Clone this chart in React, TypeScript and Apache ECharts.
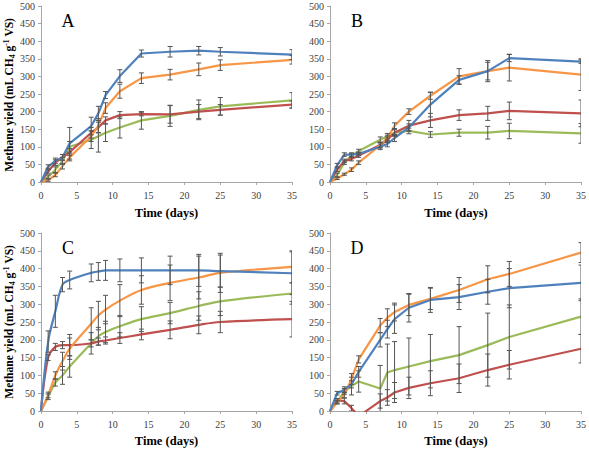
import React, { useEffect, useRef } from "react";
import * as echarts from "echarts";

const X = [0, 1, 2, 3, 4, 7, 8, 9, 11, 14, 18, 22, 25, 35];
const X_TICKS = [0, 5, 10, 15, 20, 25, 30, 35];
const Y_TICKS = [0, 50, 100, 150, 200, 250, 300, 350, 400, 450, 500];
const PANELS = ["A", "B", "C", "D"];

// Panel A
const A_blue = [0, 44, 60, 70, 110, 159, 195, 247, 301, 365, 370, 373, 370, 362];
const A_orange = [0, 5, 20, 45, 70, 130, 160, 210, 258, 295, 305, 320, 332, 347];
const A_red = [0, 30, 55, 70, 85, 140, 155, 175, 190, 193, 192, 200, 205, 220];
const A_green = [0, 15, 35, 60, 100, 120, 130, 140, 155, 175, 188, 205, 215, 232];
const A_blue_err = [0, 5, 8, 8, 45, 25, 20, 10, 18, 10, 15, 12, 12, 14];
const A_orange_err = [0, 3, 5, 8, 10, 15, 20, 15, 20, 15, 15, 18, 15, 12];
const A_red_err = [0, 5, 8, 8, 10, 15, 15, 10, 10, 5, 25, 20, 15, 10];
const A_green_err = [0, 5, 8, 10, 15, 25, 45, 25, 30, 25, 30, 28, 25, 22];

// Panel B
const B_blue = [0, 48, 78, 78, 80, 100, 108, 125, 155, 220, 290, 315, 352, 342];
const B_orange = [0, 10, 22, 35, 55, 105, 125, 160, 200, 245, 300, 315, 325, 305];
const B_red = [0, 35, 60, 65, 75, 105, 120, 140, 160, 175, 190, 195, 202, 195];
const B_green = [0, 20, 55, 75, 88, 120, 130, 140, 145, 135, 140, 140, 145, 138];
const B_blue_err = [0, 5, 5, 5, 5, 8, 8, 10, 10, 35, 12, 30, 10, 5];
const B_orange_err = [0, 3, 3, 5, 5, 8, 8, 8, 8, 10, 22, 25, 38, 45];
const B_red_err = [0, 5, 5, 5, 5, 8, 8, 10, 15, 20, 15, 20, 25, 38];
const B_green_err = [0, 5, 5, 5, 5, 8, 8, 8, 8, 8, 10, 18, 22, 28];

// Panel C
const C_blue = [0, 195, 280, 355, 368, 388, 392, 395, 395, 395, 395, 395, 393, 387];
const C_orange = [0, 45, 100, 140, 175, 245, 268, 285, 310, 340, 360, 375, 388, 405];
const C_red = [0, 150, 180, 185, 185, 190, 195, 198, 205, 215, 228, 242, 250, 258];
const C_green = [0, 40, 80, 100, 125, 190, 210, 222, 238, 258, 275, 295, 308, 330];
const C_blue_err = [0, 30, 45, 20, 25, 25, 25, 28, 32, 35, 40, 45, 45, 60];
const C_orange_err = [0, 8, 10, 25, 30, 45, 40, 40, 45, 40, 50, 60, 55, 45];
const C_red_err = [0, 8, 10, 10, 30, 10, 10, 10, 15, 15, 25, 25, 30, 50];
const C_green_err = [0, 8, 10, 25, 30, 30, 25, 30, 30, 35, 30, 40, 40, 30];

// Panel D
const D_blue = [0, 50, 60, 75, 110, 200, 230, 258, 290, 312, 320, 335, 345, 360];
const D_orange = [0, 25, 45, 90, 145, 240, 262, 278, 298, 315, 340, 370, 385, 445];
const D_red = [0, 30, 28, 8, -15, 28, 38, 52, 65, 78, 92, 115, 130, 175];
const D_green = [0, 25, 55, 70, 83, 63, 108, 115, 125, 140, 157, 185, 208, 265];
const D_blue_err = [0, 5, 8, 10, 15, 20, 25, 40, 40, 35, 35, 35, 55, 50];
const D_orange_err = [0, 5, 8, 15, 10, 20, 25, 25, 30, 30, 35, 38, 35, 28];
const D_red_err = [0, 5, 8, 8, 0, 20, 22, 28, 30, 35, 40, 45, 40, 40];
const D_green_err = [0, 5, 8, 25, 30, 65, 80, 80, 80, 75, 80, 90, 90, 50];

const COLORS = { blue: "#4F81BD", orange: "#F79646", red: "#C0504D", green: "#9BBB59" };
const FONT = "'Liberation Serif', 'Times New Roman', serif";

type SeriesDef = { name: string; color: string; values: number[]; err: number[] };

const PANEL_DATA: SeriesDef[][] = [
  [
    { name: "green", color: COLORS.green, values: A_green, err: A_green_err },
    { name: "red", color: COLORS.red, values: A_red, err: A_red_err },
    { name: "orange", color: COLORS.orange, values: A_orange, err: A_orange_err },
    { name: "blue", color: COLORS.blue, values: A_blue, err: A_blue_err },
  ],
  [
    { name: "green", color: COLORS.green, values: B_green, err: B_green_err },
    { name: "red", color: COLORS.red, values: B_red, err: B_red_err },
    { name: "orange", color: COLORS.orange, values: B_orange, err: B_orange_err },
    { name: "blue", color: COLORS.blue, values: B_blue, err: B_blue_err },
  ],
  [
    { name: "green", color: COLORS.green, values: C_green, err: C_green_err },
    { name: "red", color: COLORS.red, values: C_red, err: C_red_err },
    { name: "orange", color: COLORS.orange, values: C_orange, err: C_orange_err },
    { name: "blue", color: COLORS.blue, values: C_blue, err: C_blue_err },
  ],
  [
    { name: "green", color: COLORS.green, values: D_green, err: D_green_err },
    { name: "red", color: COLORS.red, values: D_red, err: D_red_err },
    { name: "orange", color: COLORS.orange, values: D_orange, err: D_orange_err },
    { name: "blue", color: COLORS.blue, values: D_blue, err: D_blue_err },
  ],
];

const GRIDS = [
  { left: 41, top: 6, width: 251, height: 176 },
  { left: 330, top: 6, width: 252, height: 176 },
  { left: 41, top: 233, width: 251, height: 178 },
  { left: 330, top: 233, width: 252, height: 178 },
];

export default function App() {
  const ref = useRef<HTMLDivElement>(null);
  useEffect(() => {
    if (!ref.current) return;
    const chart = echarts.init(ref.current, null, { renderer: "svg" });
    const series: any[] = [];
    PANEL_DATA.forEach((panel, pi) => {
      const smooth = pi === 2 ? 0.35 : false;
      panel.forEach((s) => {
        series.push({
          type: "line",
          name: s.name,
          xAxisIndex: pi,
          yAxisIndex: pi,
          data: X.map((x, i) => [x, s.values[i]]),
          showSymbol: false,
          symbol: "none",
          smooth,
          clip: true,
          lineStyle: { color: s.color, width: 2.2 },
          itemStyle: { color: s.color },
          z: 2,
        });
      });
      panel.forEach((s) => {
        series.push({
          type: "custom",
          xAxisIndex: pi,
          yAxisIndex: pi,
          clip: true,
          z: 3,
          data: X.map((x, i) => [x, s.values[i], s.err[i]]).filter((d) => d[2] > 0),
          renderItem: (params: any, api: any) => {
            const x = api.value(0);
            const y = api.value(1);
            const e = api.value(2);
            const top = api.coord([x, y + e]);
            const bot = api.coord([x, y - e]);
            const w = 2.5;
            const st = { stroke: "#555", lineWidth: 1 };
            return {
              type: "group",
              children: [
                { type: "line", shape: { x1: top[0], y1: top[1], x2: bot[0], y2: bot[1] }, style: st },
                { type: "line", shape: { x1: top[0] - w, y1: top[1], x2: top[0] + w, y2: top[1] }, style: st },
                { type: "line", shape: { x1: bot[0] - w, y1: bot[1], x2: bot[0] + w, y2: bot[1] }, style: st },
              ],
            };
          },
        });
      });
    });

    const axisLabel = { color: "#404040", fontFamily: FONT, fontSize: 10 };
    const axisLine = { show: true, lineStyle: { color: "#a6a6a6", width: 1 } };
    const axisTick = { show: true, length: 3, lineStyle: { color: "#a6a6a6" } };

    const graphic: any[] = [];
    PANELS.forEach((p, pi) => {
      const g = GRIDS[pi];
      graphic.push({
        type: "text",
        x: g.left + 27,
        y: g.top + 15,
        style: { text: p, font: `18px ${FONT}`, fill: "#000", textAlign: "center", textVerticalAlign: "middle" },
      });
    });
    const titleY = [213, 213, 441, 441];
    GRIDS.forEach((g, pi) => {
      graphic.push({
        type: "text",
        x: g.left + g.width / 2,
        y: titleY[pi],
        style: {
          text: "Time (days)",
          font: `bold 12.5px ${FONT}`,
          fill: "#000",
          textAlign: "center",
          textVerticalAlign: "middle",
        },
      });
    });
    [95, 322].forEach((cy) => {
      graphic.push({
        type: "text",
        x: 9,
        y: cy,
        rotation: Math.PI / 2,
        style: {
          text: "{m|Methane yield (mL CH}{s|4}{m| g}{p|-1}{m| VS)}",
          textAlign: "center",
          textVerticalAlign: "middle",
          rich: {
            m: { fontFamily: FONT, fontWeight: "bold", fontSize: 11.5, fill: "#000", lineHeight: 14, verticalAlign: "middle" },
            s: { fontFamily: FONT, fontWeight: "bold", fontSize: 7.5, fill: "#000", lineHeight: 14, verticalAlign: "bottom" },
            p: { fontFamily: FONT, fontWeight: "bold", fontSize: 7.5, fill: "#000", lineHeight: 14, verticalAlign: "top" },
          },
        },
      });
    });

    chart.setOption({
      animation: false,
      backgroundColor: "#fff",
      grid: GRIDS.map((g) => ({ ...g, containLabel: false })),
      xAxis: GRIDS.map((_, i) => ({
        type: "value",
        gridIndex: i,
        min: X_TICKS[0],
        max: X_TICKS[X_TICKS.length - 1],
        interval: 5,
        axisLine,
        axisTick,
        splitLine: { show: false },
        axisLabel: { ...axisLabel, margin: 8 },
      })),
      yAxis: GRIDS.map((_, i) => ({
        type: "value",
        gridIndex: i,
        min: Y_TICKS[0],
        max: Y_TICKS[Y_TICKS.length - 1],
        interval: 50,
        axisLine,
        axisTick,
        splitLine: { show: false },
        axisLabel: { ...axisLabel, margin: 6 },
      })),
      series,
      graphic,
    });
    return () => chart.dispose();
  }, []);
  return <div ref={ref} style={{ width: 589, height: 449, position: "absolute", left: 0, top: 0 }} />;
}
